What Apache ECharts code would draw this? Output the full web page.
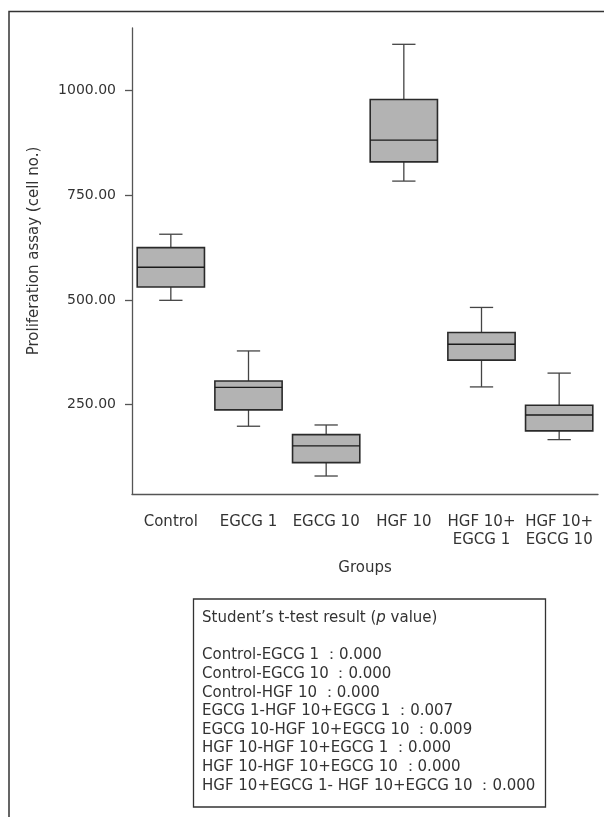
<!DOCTYPE html>
<html>
<head>
<meta charset="utf-8">
<script src="https://cdn.jsdelivr.net/npm/echarts@6/dist/echarts.min.js"></script>
<style>
  html, body { margin: 0; padding: 0; background: #fff; }
  #chart { width: 604px; height: 817px; }
</style>
</head>
<body>
<div id="chart"></div>
<script>
// ---- data ----
const categories = ['Control', 'EGCG 1', 'EGCG 10', 'HGF 10', 'HGF 10+\nEGCG 1', 'HGF 10+\nEGCG 10'];
const whiskerLow  = [499, 198, 79, 784, 292, 166];
const q1Values    = [531, 237, 111, 830, 356, 187];
const medians     = [578, 291, 151, 882, 394, 225];
const q3Values    = [625, 306, 178, 979, 422, 248];
const whiskerHigh = [657, 378, 201, 1111, 482, 325];
const yTickValues = [250, 500, 750, 1000];
const yAxisTitle = 'Proliferation assay (cell no.)';
const xAxisTitle = 'Groups';
const legendTitle = 'Student\u2019s t-test result (';
const legendTitleItalic = 'p';
const legendTitleEnd = ' value)';
const tTestLines = [
  'Control-EGCG 1 \uFF1A0.000',
  'Control-EGCG 10 \uFF1A0.000',
  'Control-HGF 10 \uFF1A0.000',
  'EGCG 1-HGF 10+EGCG 1 \uFF1A0.007',
  'EGCG 10-HGF 10+EGCG 10 \uFF1A0.009',
  'HGF 10-HGF 10+EGCG 1 \uFF1A0.000',
  'HGF 10-HGF 10+EGCG 10 \uFF1A0.000',
  'HGF 10+EGCG 1- HGF 10+EGCG 10 \uFF1A0.000'
];

const FONT = '"DejaVu Sans", "Noto Sans", sans-serif';
const boxData = categories.map((c, i) => [i, whiskerLow[i], q1Values[i], medians[i], q3Values[i], whiskerHigh[i]]);

function renderBox(params, api) {
  const idx = api.value(0);
  const band = api.size([1, 0])[0];
  const boxW = band * 0.866;
  const capW = band * 0.30;
  const pLow = api.coord([idx, api.value(1)]);
  const pQ1 = api.coord([idx, api.value(2)]);
  const pMed = api.coord([idx, api.value(3)]);
  const pQ3 = api.coord([idx, api.value(4)]);
  const pHigh = api.coord([idx, api.value(5)]);
  const cx = pMed[0];
  const whiskerStyle = { stroke: '#444', lineWidth: 1.3 };
  return {
    type: 'group',
    children: [
      { type: 'line', shape: { x1: cx, y1: pHigh[1], x2: cx, y2: pQ3[1] }, style: whiskerStyle },
      { type: 'line', shape: { x1: cx, y1: pQ1[1], x2: cx, y2: pLow[1] }, style: whiskerStyle },
      { type: 'line', shape: { x1: cx - capW / 2, y1: pHigh[1], x2: cx + capW / 2, y2: pHigh[1] }, style: whiskerStyle },
      { type: 'line', shape: { x1: cx - capW / 2, y1: pLow[1], x2: cx + capW / 2, y2: pLow[1] }, style: whiskerStyle },
      { type: 'rect', shape: { x: cx - boxW / 2, y: pQ3[1], width: boxW, height: pQ1[1] - pQ3[1] },
        style: { fill: '#b3b3b3', stroke: '#2a2a2a', lineWidth: 1.6 } },
      { type: 'line', shape: { x1: cx - boxW / 2, y1: pMed[1], x2: cx + boxW / 2, y2: pMed[1] },
        style: { stroke: '#1a1a1a', lineWidth: 1.4 } }
    ]
  };
}

const chart = echarts.init(document.getElementById('chart'), null, { renderer: 'canvas' });
chart.setOption({
  backgroundColor: '#fff',
  animation: false,
  textStyle: { fontFamily: FONT },
  grid: { left: 132, right: 6, top: 28, bottom: 323, containLabel: false },
  xAxis: {
    type: 'category',
    data: categories,
    boundaryGap: true,
    name: xAxisTitle,
    nameLocation: 'middle',
    nameGap: 67,
    nameTextStyle: { fontFamily: FONT, fontSize: 15, color: '#333' },
    axisLine: { lineStyle: { color: '#555', width: 1.3 } },
    axisTick: { alignWithLabel: true, length: 7, lineStyle: { color: '#555', width: 1.3 } },
    axisLabel: { fontFamily: FONT, fontSize: 15, color: '#333', margin: 19, lineHeight: 18, interval: 0 },
    splitLine: { show: false }
  },
  yAxis: {
    type: 'value',
    min: 36,
    max: 1150,
    name: yAxisTitle,
    nameLocation: 'middle',
    nameGap: 90,
    nameRotate: 90,
    nameTextStyle: { fontFamily: FONT, fontSize: 15, color: '#333', padding: [0, 0, 0, 20] },
    axisLine: { show: true, lineStyle: { color: '#555', width: 1.3 } },
    axisTick: { show: true, length: 7, customValues: yTickValues, lineStyle: { color: '#555', width: 1.3 } },
    axisLabel: { fontFamily: FONT, fontSize: 14, color: '#333', margin: 16, customValues: yTickValues,
      formatter: v => v.toFixed(2) },
    splitLine: { show: false }
  },
  series: [{
    type: 'custom',
    renderItem: renderBox,
    encode: { x: 0, y: [1, 2, 3, 4, 5] },
    data: boxData
  }],
  graphic: [
    { type: 'polyline', silent: true,
      shape: { points: [[9, 817], [9, 11.5], [604, 11.5]] },
      style: { stroke: '#333', lineWidth: 1.5, fill: null } },
    { type: 'rect', silent: true,
      shape: { x: 193.5, y: 599, width: 352, height: 208 },
      style: { fill: '#fff', stroke: '#333', lineWidth: 1.3 } },
    { type: 'text', silent: true, left: 202, top: 609,
      style: {
        text: '{n|' + legendTitle + '}{i|' + legendTitleItalic + '}{n|' + legendTitleEnd + '}\n{n| }\n' +
              tTestLines.map(l => '{n|' + l + '}').join('\n'),
        fontFamily: FONT, fontSize: 15, fill: '#333', lineHeight: 18.6,
        rich: {
          n: { fontFamily: FONT, fontSize: 15, fill: '#333', lineHeight: 18.6 },
          i: { fontFamily: FONT, fontSize: 15, fontStyle: 'italic', fill: '#333', lineHeight: 18.6 }
        }
      } }
  ]
});
</script>
</body>
</html>
